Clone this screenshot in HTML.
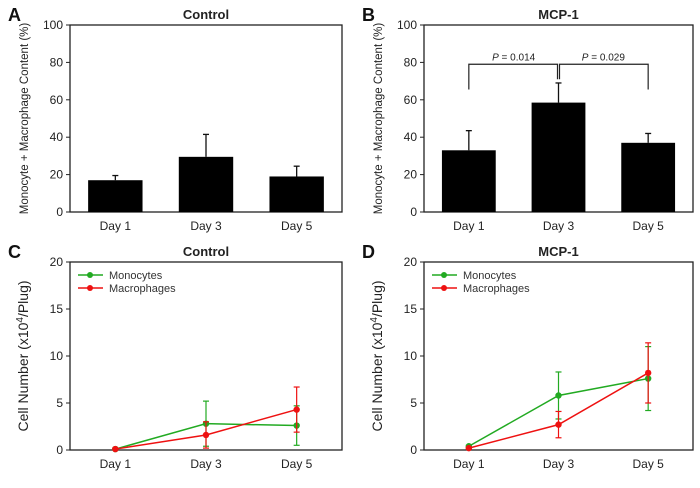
<!DOCTYPE html>
<html><head><meta charset="utf-8"><style>
body{margin:0;background:#fff}
svg{display:block;font-family:"Liberation Sans",Arial,sans-serif}
</style></head><body>
<svg id="fig" width="700" height="488" viewBox="0 0 700 488"></svg>
<script>
const days=["Day 1","Day 3","Day 5"];
const barTicks=[0,20,40,60,80,100];
const lineTicks=[0,5,10,15,20];
const ctrlMean=[17,29.5,19];
const ctrlErr=[2.5,12,5.5];
const mcpMean=[33,58.5,37];
const mcpErr=[10.5,10.5,5];
const cMono=[0.1,2.8,2.6];
const cMonoErr=[0.1,2.4,2.1];
const cMacro=[0.1,1.6,4.3];
const cMacroErr=[0.1,1.4,2.4];
const dMono=[0.4,5.8,7.6];
const dMonoErr=[0.1,2.5,3.4];
const dMacro=[0.2,2.7,8.2];
const dMacroErr=[0.1,1.4,3.2];
const pLabels=["P = 0.014","P = 0.029"];

const NS="http://www.w3.org/2000/svg";
const svg=document.getElementById('fig');
function mk(tag,attrs,parent,text){const e=document.createElementNS(NS,tag);for(const k in attrs)e.setAttribute(k,attrs[k]);if(text!==undefined)e.textContent=text;(parent||svg).appendChild(e);return e;}

function panel(letter,title,x0,x1,y0,y1,ymax,ticks,ylab,name){
  const g=mk('g',{});
  
  
  const xs=i=>x0+(x1-x0)*(2*i+1)/6;
  const ys=v=>y1-(y1-y0)*v/ymax;
  const fr=mk('rect',{x:x0,y:y0,width:x1-x0,height:y1-y0,fill:'none',stroke:'#222','stroke-width':1.3},g);
  
  ticks.forEach(t=>{
    mk('line',{x1:x0-4,x2:x0,y1:ys(t),y2:ys(t),stroke:'#222'},g);
    const tl=mk('text',{x:x0-7,y:ys(t)+4,'text-anchor':'end','font-size':12,fill:'#222'},g,t);
    
  });
  days.forEach((d,i)=>{
    const tl=mk('text',{x:xs(i),y:y1+18,'text-anchor':'middle','font-size':12,fill:'#222'},g,d);
    
  });
  const t=mk('text',{x:(x0+x1)/2,y:y0-6,'text-anchor':'middle','font-size':13,'font-weight':'bold',fill:'#222'},g,title);
  
  const L=mk('text',{x:x0-62,y:y0-4,'font-size':18,'font-weight':'bold',fill:'#111'},g,letter);
  
  const yl=mk('text',{transform:`translate(${x0-42},${(y0+y1)/2}) rotate(-90)`,'text-anchor':'middle','font-size':ylab.size,fill:'#222'},g);
  
  if(ylab.sup){mk('tspan',{},yl,'Cell Number (x10');mk('tspan',{dy:-5,'font-size':10},yl,'4');mk('tspan',{dy:5},yl,'/Plug)');}
  else yl.textContent=ylab.text;
  return {g,xs,ys};
}

function bars(p,mean,err,x0,x1){
  const w=(x1-x0)*0.2;
  mean.forEach((v,i)=>{
    const cx=p.xs(i);
    mk('line',{x1:cx,x2:cx,y1:p.ys(v),y2:p.ys(v+err[i]),stroke:'#111','stroke-width':1.3},p.g);
    mk('line',{x1:cx-3,x2:cx+3,y1:p.ys(v+err[i]),y2:p.ys(v+err[i]),stroke:'#111','stroke-width':1.3},p.g);
    const r=mk('rect',{x:cx-w/2,y:p.ys(v),width:w,height:p.ys(0)-p.ys(v),fill:'#000'},p.g);
    
    
  });
}

function series(p,vals,err,color,nm){
  const pts=vals.map((v,i)=>p.xs(i)+','+p.ys(v)).join(' ');
  vals.forEach((v,i)=>{
    const cx=p.xs(i);
    mk('line',{x1:cx,x2:cx,y1:p.ys(Math.max(0,v-err[i])),y2:p.ys(v+err[i]),stroke:color,'stroke-width':1.2},p.g);
    [v-err[i],v+err[i]].forEach(e=>{if(e>=0)mk('line',{x1:cx-3,x2:cx+3,y1:p.ys(e),y2:p.ys(e),stroke:color,'stroke-width':1.2},p.g);});
  });
  const l=mk('polyline',{points:pts,fill:'none',stroke:color,'stroke-width':1.5},p.g);
  
  vals.forEach((v,i)=>{
    const c=mk('circle',{cx:p.xs(i),cy:p.ys(v),r:3.2,fill:color},p.g);
    
  });
}

function legend(p,x0,y0){
  const items=[["Monocytes","#22aa22"],["Macrophages","#ee1111"]];
  items.forEach((it,k)=>{
    const y=y0+13+k*13;
    const g=mk('g',{},p.g);
    
    mk('line',{x1:x0+8,x2:x0+33,y1:y,y2:y,stroke:it[1],'stroke-width':1.5},g);
    mk('circle',{cx:x0+20,cy:y,r:3,fill:it[1]},g);
    mk('text',{x:x0+39,y:y+4,'font-size':11,fill:'#333'},g,it[0]);
  });
}

const ylA={text:'Monocyte + Macrophage Content (%)',size:11.5};
const ylC={sup:true,size:14};
const A=panel('A','Control',70,342,25,212,100,barTicks,ylA,'panel-a');
bars(A,ctrlMean,ctrlErr,70,342);
const B=panel('B','MCP-1',424,693,25,212,100,barTicks,ylA,'panel-b');
bars(B,mcpMean,mcpErr,424,693);
// significance brackets
const by=B.ys(79),bl=B.ys(65.5);
const bx=[B.xs(0),B.xs(1),B.xs(2)];
mk('polyline',{points:`${bx[0]},${bl} ${bx[0]},${by} ${bx[1]-1},${by} ${bx[1]-1},${B.ys(71)}`,fill:'none',stroke:'#222','stroke-width':1.2},B.g);
mk('polyline',{points:`${bx[1]+1},${B.ys(71)} ${bx[1]+1},${by} ${bx[2]},${by} ${bx[2]},${bl}`,fill:'none',stroke:'#222','stroke-width':1.2},B.g);
pLabels.forEach((s,k)=>{
  const t=mk('text',{x:(bx[k]+bx[k+1])/2,y:by-4,'text-anchor':'middle','font-size':10,fill:'#222'},B.g);
  
  mk('tspan',{'font-style':'italic'},t,'P');mk('tspan',{},t,s.slice(1));
});
const C=panel('C','Control',70,342,262,450,20,lineTicks,ylC,'panel-c');
series(C,cMono,cMonoErr,'#22aa22','monocytes');
series(C,cMacro,cMacroErr,'#ee1111','macrophages');
legend(C,70,262);
const D=panel('D','MCP-1',424,693,262,450,20,lineTicks,ylC,'panel-d');
series(D,dMono,dMonoErr,'#22aa22','monocytes');
series(D,dMacro,dMacroErr,'#ee1111','macrophages');
legend(D,424,262);
</script>
</body></html>
